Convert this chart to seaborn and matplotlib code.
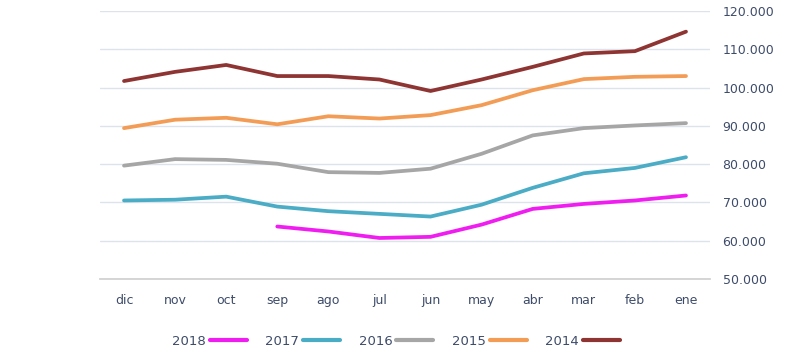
import seaborn as sns
import pandas as pd
import numpy as np
import matplotlib.pyplot as plt
from matplotlib.ticker import FuncFormatter

months = ["ene", "feb", "mar", "abr", "may", "jun", "jul", "ago", "sep", "oct", "nov", "dic"]

v2014 = [114600, 109500, 108900, 105400, 102100, 99100, 102100, 103000, 103000, 105900, 104100, 101700]
v2015 = [103000, 102800, 102200, 99300, 95400, 92800, 91900, 92500, 90400, 92100, 91600, 89400]
v2016 = [90700, 90100, 89400, 87500, 82700, 78800, 77700, 77900, 80100, 81100, 81300, 79600]
v2017 = [81800, 79000, 77600, 73800, 69400, 66300, 67000, 67700, 68900, 71500, 70700, 70500]
v2018 = [71800, 70500, 69600, 68300, 64200, 61000, 60700, 62400, 63700, np.nan, np.nan, np.nan]

years = ["2014", "2015", "2016", "2017", "2018"]
colors = ["#8E3432", "#F39C55", "#A6A6A6", "#4BACC6", "#F01DF0"]

series = {"2014": v2014, "2015": v2015, "2016": v2016, "2017": v2017, "2018": v2018}
rows = []
for y in years:
    for i, m in enumerate(months):
        rows.append({"mes": m, "pos": i, "year": y, "valor": series[y][i]})
df = pd.DataFrame(rows).dropna()

sns.set_theme(style="white")
plt.rcParams['font.family'] = ['DejaVu Sans']
text_col = "#3E4C6A"

fig = plt.figure(figsize=(8, 3.54), dpi=100)
ax = fig.add_axes([0.125, 0.212, 0.7625, 0.757])

sns.lineplot(data=df, x="pos", y="valor", hue="year", hue_order=years,
             palette=dict(zip(years, colors)), linewidth=2.7, sort=False,
             ax=ax, legend=False)

ax.set_xlim(11.47, -0.47)
ax.set_ylim(50000, 120000)
ax.set_xticks(range(len(months)))
ax.set_xticklabels(months)
ax.set_yticks(range(50000, 120001, 10000))
ax.yaxis.set_major_formatter(FuncFormatter(lambda v, p: f"{int(v):,}".replace(",", ".")))
ax.yaxis.tick_right()
ax.tick_params(axis="y", length=0, pad=9, labelsize=9, labelcolor=text_col)
ax.tick_params(axis="x", length=0, pad=11, labelsize=9, labelcolor=text_col)
ax.grid(axis="y", color="#DCE3EC", linewidth=1)
ax.set_xlabel("")
ax.set_ylabel("")
for s in ["top", "left", "right"]:
    ax.spines[s].set_visible(False)
ax.spines["bottom"].set_color("#D0D0D0")

handles = [plt.Line2D([], [], color=c, linewidth=3) for c in colors]
leg = fig.legend(handles[::-1], years[::-1], loc="center", bbox_to_anchor=(0.495, 0.035),
                 ncol=5, frameon=False, markerfirst=False, fontsize=9.5,
                 handlelength=2.8, columnspacing=1.4, handletextpad=0.3)
for t in leg.get_texts():
    t.set_color(text_col)

fig.savefig("out.png", dpi=100)
